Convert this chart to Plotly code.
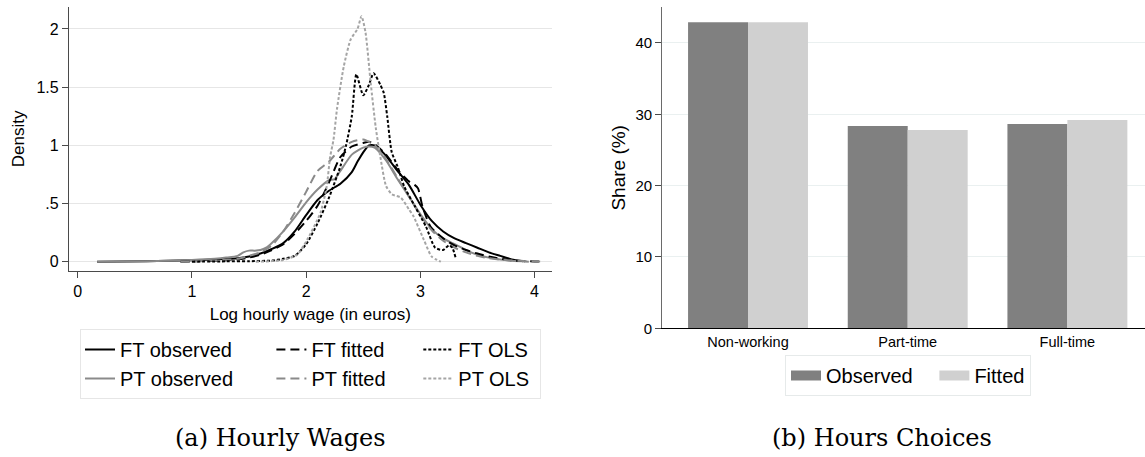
import plotly.graph_objects as go

W, H = 1145, 457

# ---------------- Panel (a): kernel densities of log hourly wage ----------------
ft_obs_x = [0.17, 0.6, 1.0, 1.2, 1.4, 1.5, 1.6, 1.7, 1.8, 1.9, 2.0, 2.1, 2.2, 2.3, 2.4, 2.45, 2.5, 2.55, 2.6, 2.65, 2.7, 2.8, 2.9, 3.0, 3.1, 3.2, 3.3, 3.4, 3.5, 3.6, 3.7, 3.8, 3.9]
ft_obs_y = [0, 0.004, 0.012, 0.02, 0.03, 0.045, 0.07, 0.11, 0.16, 0.26, 0.40, 0.53, 0.61, 0.67, 0.77, 0.86, 0.94, 1.00, 1.00, 0.96, 0.91, 0.78, 0.66, 0.49, 0.35, 0.26, 0.20, 0.16, 0.12, 0.08, 0.05, 0.02, 0.004]

pt_obs_x = [0.17, 0.6, 1.0, 1.2, 1.3, 1.4, 1.45, 1.5, 1.55, 1.6, 1.65, 1.7, 1.8, 1.9, 2.0, 2.1, 2.2, 2.25, 2.3, 2.4, 2.5, 2.55, 2.6, 2.7, 2.8, 2.9, 3.0, 3.1, 3.2, 3.3, 3.4, 3.5, 3.6, 3.7, 3.8, 3.95]
pt_obs_y = [0, 0.004, 0.015, 0.025, 0.035, 0.05, 0.08, 0.095, 0.095, 0.10, 0.12, 0.16, 0.26, 0.38, 0.51, 0.62, 0.70, 0.71, 0.78, 0.92, 0.98, 0.99, 0.98, 0.87, 0.71, 0.56, 0.41, 0.28, 0.20, 0.15, 0.10, 0.06, 0.035, 0.018, 0.008, 0]

ft_fit_x = [0.9, 1.2, 1.4, 1.5, 1.6, 1.7, 1.8, 1.9, 2.0, 2.1, 2.2, 2.3, 2.4, 2.5, 2.55, 2.6, 2.7, 2.8, 2.9, 2.95, 2.98, 3.02, 3.09, 3.2, 3.3, 3.4, 3.5, 3.6, 3.7, 3.8, 3.9, 4.0, 4.08]
ft_fit_y = [0, 0.008, 0.02, 0.035, 0.06, 0.10, 0.15, 0.24, 0.35, 0.48, 0.68, 0.90, 0.99, 1.02, 1.03, 1.01, 0.92, 0.79, 0.69, 0.66, 0.63, 0.47, 0.30, 0.20, 0.14, 0.10, 0.07, 0.045, 0.025, 0.012, 0.005, 0.002, 0]

pt_fit_x = [0.9, 1.2, 1.4, 1.5, 1.6, 1.7, 1.8, 1.9, 2.0, 2.1, 2.2, 2.3, 2.4, 2.5, 2.6, 2.7, 2.8, 2.9, 3.0, 3.1, 3.2, 3.3, 3.4, 3.5, 3.6, 3.7, 3.8, 3.9, 4.0, 4.08]
pt_fit_y = [0, 0.01, 0.025, 0.05, 0.08, 0.14, 0.26, 0.42, 0.60, 0.78, 0.86, 0.97, 1.03, 1.05, 1.00, 0.88, 0.72, 0.56, 0.40, 0.27, 0.18, 0.12, 0.08, 0.05, 0.03, 0.018, 0.01, 0.005, 0.002, 0]

ft_ols_x = [1.0, 1.3, 1.5, 1.7, 1.8, 1.9, 2.0, 2.1, 2.2, 2.3, 2.35, 2.4, 2.44, 2.5, 2.55, 2.59, 2.65, 2.68, 2.71, 2.75, 2.8, 2.86, 2.95, 3.05, 3.13, 3.2, 3.25, 3.28, 3.31]
ft_ols_y = [0, 0.003, 0.004, 0.01, 0.025, 0.05, 0.15, 0.33, 0.55, 0.82, 1.00, 1.25, 1.61, 1.43, 1.52, 1.62, 1.52, 1.45, 1.25, 0.94, 0.82, 0.645, 0.48, 0.30, 0.12, 0.10, 0.14, 0.12, 0.03]

pt_ols_x = [1.56, 1.7, 1.8, 1.92, 2.01, 2.125, 2.18, 2.21, 2.24, 2.27, 2.33, 2.39, 2.45, 2.485, 2.52, 2.565, 2.61, 2.65, 2.70, 2.75, 2.83, 2.9, 2.94, 3.03, 3.10, 3.18]
pt_ols_y = [0, 0.005, 0.015, 0.058, 0.19, 0.42, 0.645, 0.90, 1.05, 1.31, 1.68, 1.91, 2.0, 2.11, 1.97, 1.54, 1.15, 0.90, 0.65, 0.58, 0.55, 0.45, 0.39, 0.19, 0.043, 0.0]

dens_yticks = [0, 0.5, 1, 1.5, 2]
dens_ytick_labels = ["0", ".5", "1", "1.5", "2"]
dens_xticks = [0, 1, 2, 3, 4]

# ---------------- Panel (b): hours choices ----------------
hours_categories = ["Non-working", "Part-time", "Full-time"]
share_observed = [42.9, 28.35, 28.65]
share_fitted = [42.9, 27.8, 29.2]
share_yticks = [0, 10, 20, 30, 40]

FONT = "Liberation Sans, Arial, Helvetica, sans-serif"
SERIF = "DejaVu Serif, serif"
PAD6 = "\u00a0" * 6
PAD5 = "\u00a0" * 5
PAD1 = "\u00a0"

fig = go.Figure()

line_specs = [
    ("FT observed", PAD6, ft_obs_x, ft_obs_y, "#000000", "solid", "obs"),
    ("PT observed", PAD6, pt_obs_x, pt_obs_y, "#8a8a8a", "solid", "obs"),
    ("FT fitted", PAD5, ft_fit_x, ft_fit_y, "#000000", "9px,5px", "fit"),
    ("PT fitted", PAD5, pt_fit_x, pt_fit_y, "#8a8a8a", "9px,5px", "fit"),
    ("FT OLS", PAD1, ft_ols_x, ft_ols_y, "#000000", "3px,2px", "ols"),
    ("PT OLS", PAD1, pt_ols_x, pt_ols_y, "#a5a5a5", "3px,2px", "ols"),
]
for name, pad, xs, ys, col, dash, grp in line_specs:
    fig.add_trace(go.Scatter(
        x=xs, y=ys, name=name + pad, mode="lines",
        line=dict(color=col, dash=dash, width=2.0, shape="spline", smoothing=0.6),
        legendgroup=grp, legend="legend", xaxis="x", yaxis="y",
    ))

bar_colors = {"Observed": "#808080", "Fitted": "#d0d0d0"}
for name, vals in [("Observed", share_observed), ("Fitted", share_fitted)]:
    fig.add_trace(go.Bar(
        x=hours_categories, y=vals, name=name,
        marker=dict(color=bar_colors[name], line=dict(width=0)),
        xaxis="x2", yaxis="y2", showlegend=False,
    ))
# legend keys for the bar panel (wide swatches, as in the original)
for name, pad in [("Observed", "\u00a0" * 3), ("Fitted", "")]:
    fig.add_trace(go.Scatter(
        x=[None], y=[None], name=name + pad, mode="lines",
        line=dict(color=bar_colors[name], width=14),
        xaxis="x2", yaxis="y2", legend="legend2",
    ))

axis_col = "#4a4a4a"
fig.update_layout(
    width=W, height=H,
    margin=dict(l=0, r=0, t=0, b=0),
    paper_bgcolor="white", plot_bgcolor="white",
    font=dict(family=FONT, color="#000000"),
    barmode="group", bargap=0.249, bargroupgap=0,
    xaxis=dict(
        domain=[0.0603, 0.4818], anchor="y", range=[-0.076, 4.15],
        tickvals=dens_xticks, ticks="outside", ticklen=6, tickcolor=axis_col,
        showline=True, linecolor=axis_col, linewidth=1.3, showgrid=False, zeroline=False,
        tickfont=dict(size=16), automargin=False,
        title=dict(text="Log hourly wage (in euros)", font=dict(size=17), standoff=8),
    ),
    yaxis=dict(
        domain=[0.407, 0.985], anchor="x", range=[-0.08, 2.19],
        tickvals=dens_yticks, ticktext=dens_ytick_labels, ticks="outside", ticklen=6, tickcolor=axis_col,
        showline=True, linecolor=axis_col, linewidth=1.3,
        showgrid=True, gridcolor="#e6e6e6", gridwidth=1.3, zeroline=False,
        tickfont=dict(size=16), automargin=False,
        title=dict(text="Density", font=dict(size=17), standoff=7),
    ),
    xaxis2=dict(
        domain=[0.5784, 1.0], anchor="y2", range=[-0.537, 2.486],
        ticks="", showline=True, linecolor="#000000", linewidth=1.3,
        showgrid=False, zeroline=False, tickfont=dict(size=14.5), automargin=False,
    ),
    yaxis2=dict(
        domain=[0.2816, 0.984], anchor="x2", range=[0, 45],
        tickvals=share_yticks, ticks="outside", ticklen=6, tickcolor=axis_col,
        showline=True, linecolor="#6a6a6a", linewidth=1.3,
        showgrid=True, gridcolor="#eaf0f0", gridwidth=1.3, zeroline=False,
        tickfont=dict(size=15), automargin=False,
        title=dict(text="Share (%)", font=dict(size=19), standoff=4),
    ),
    legend=dict(
        orientation="h", traceorder="grouped", tracegroupgap=0,
        x=0.2712, xanchor="center", y=1 - 329 / H, yanchor="top",
        bordercolor="#e6e6e6", borderwidth=1, bgcolor="white",
        font=dict(size=20), itemwidth=30,
    ),
    legend2=dict(
        orientation="h",
        x=0.793, xanchor="center", y=1 - 355 / H, yanchor="top",
        bordercolor="#e6eaea", borderwidth=1, bgcolor="white",
        font=dict(size=20), itemwidth=30,
    ),
    annotations=[
        dict(text="(a) Hourly Wages", x=280 / W, y=1 - 438 / H, xref="paper", yref="paper",
             showarrow=False, font=dict(family=SERIF, size=24), xanchor="center", yanchor="middle"),
        dict(text="(b) Hours Choices", x=882 / W, y=1 - 438 / H, xref="paper", yref="paper",
             showarrow=False, font=dict(family=SERIF, size=24), xanchor="center", yanchor="middle"),
    ],
)

fig.write_html("out.html")
